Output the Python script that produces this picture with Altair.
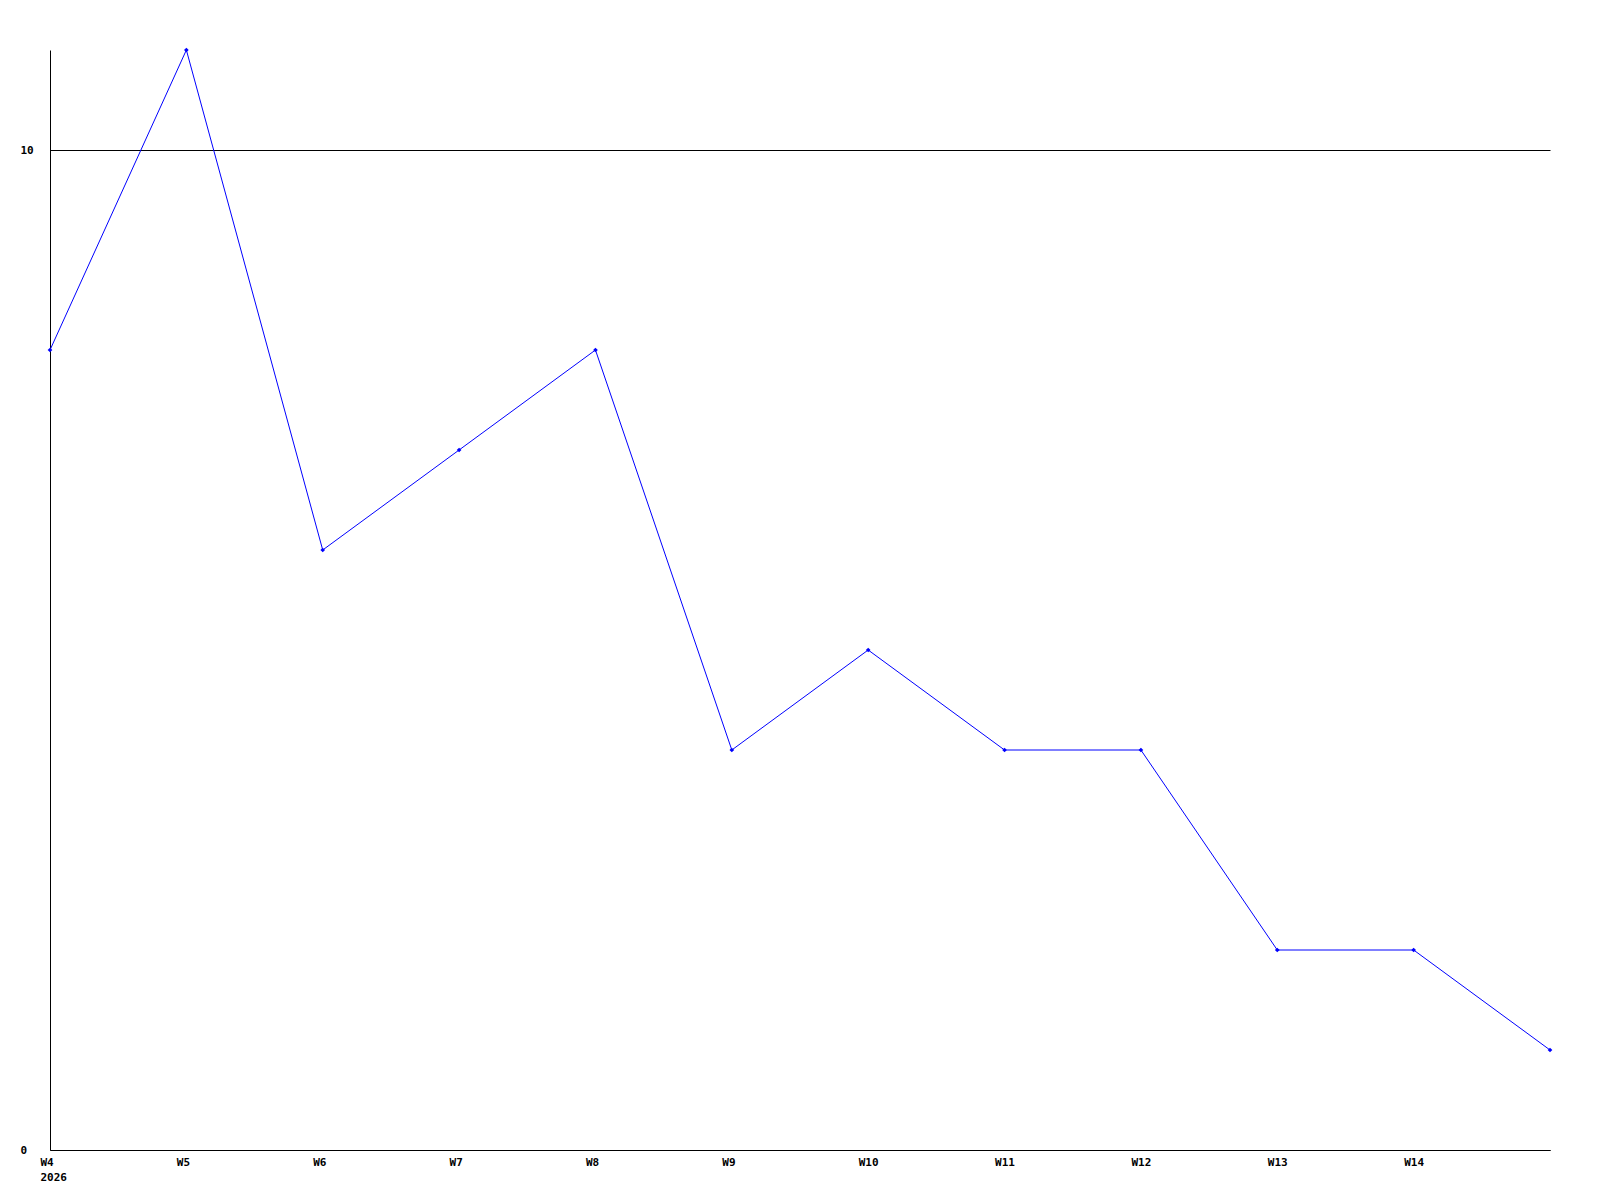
import altair as alt
import pandas as pd

weeks = ["W4", "W5", "W6", "W7", "W8", "W9", "W10", "W11", "W12", "W13", "W14", "W15"]
values = [8, 11, 6, 7, 8, 4, 5, 4, 4, 2, 2, 1]
tick_weeks = ["W4", "W5", "W6", "W7", "W8", "W9", "W10", "W11", "W12", "W13", "W14"]
y_ticks = [0, 10]

df = pd.DataFrame({"week": weeks, "value": values})

FONT = "DejaVu Sans Mono"

x_enc = alt.X(
    "week:O",
    sort=weeks,
    scale=alt.Scale(type="point", padding=0),
    axis=alt.Axis(
        values=tick_weeks,
        title=None,
        labelAngle=0,
        labelAlign="left",
        labelOffset=-10,
        labelPadding=6,
        labelBaseline="top",
        ticks=False,
        grid=False,
        domainColor="black",
        labelExpr="datum.value == 'W4' ? ['W4', '2026'] : datum.value",
    ),
)
y_enc = alt.Y(
    "value:Q",
    scale=alt.Scale(domain=[0, 11], nice=False),
    axis=alt.Axis(
        values=y_ticks,
        format="d",
        title=None,
        ticks=False,
        grid=True,
        gridColor="black",
        gridOpacity=1,
        gridWidth=1,
        labelAlign="left",
        labelPadding=30,
        domainColor="black",
    ),
)

line = alt.Chart(df).mark_line(color="#0000ff", strokeWidth=1).encode(x=x_enc, y=y_enc)
pts = alt.Chart(df).mark_point(
    shape="diamond", filled=True, color="#0000ff", size=22, opacity=1
).encode(x=alt.X("week:O", sort=weeks), y="value:Q")

chart = (
    alt.layer(line, pts)
    .properties(
        width=1500,
        height=1100,
        autosize=alt.AutoSizeParams(type="none"),
        padding={"left": 42, "top": 42, "right": 40, "bottom": 40},
    )
    .configure_axis(
        labelFont=FONT,
        labelFontSize=11,
        labelFontWeight="bold",
        labelColor="black",
        domainWidth=1,
        labelLineHeight=15,
    )
    .configure_view(stroke=None)
)

chart.save("out.html", embed_options={"renderer": "svg", "actions": False})
